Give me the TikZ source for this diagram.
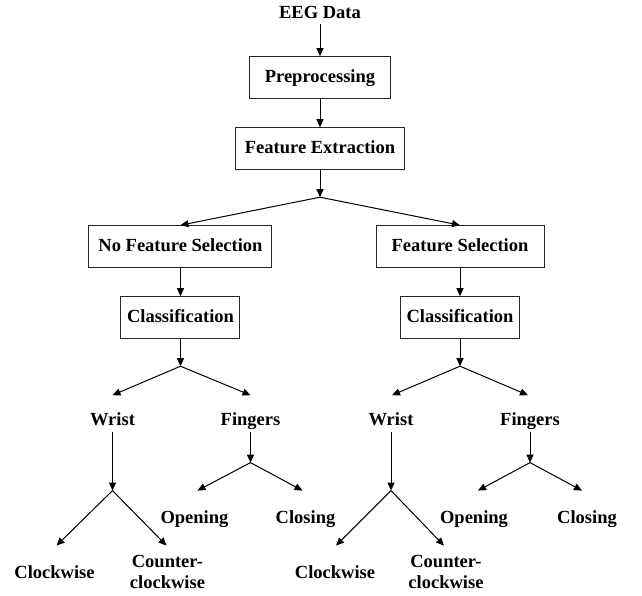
\documentclass[tikz,border=0pt]{standalone}
\usepackage{fontspec}
\setmainfont{Liberation Serif}
\usetikzlibrary{arrows.meta, positioning}

\begin{document}
\begin{tikzpicture}[
    % Node styles
    stepbox/.style={
        rectangle, draw=black!85, line width=1pt,
        minimum height=42pt, inner xsep=4pt,
        font=\fontsize{18.5}{22}\selectfont\bfseries,
        text height=12.5pt, text depth=3.5pt, align=center
    },
    leaf/.style={
        font=\fontsize{18.5}{21}\selectfont\bfseries,
        inner sep=2pt, align=center
    },
    word/.style={
        leaf, text height=12.5pt, text depth=3.5pt
    },
    arrow/.style={
        -{Triangle[length=8pt, width=7pt]}, line width=1pt, black
    }
]

\useasboundingbox (-320pt,14pt) rectangle (322pt,-582pt);

% --- Main chain ---
\node[word] (eeg) {EEG Data};
\node[stepbox, minimum width=140pt, below=32pt of eeg] (prep) {Preprocessing};
\node[stepbox, minimum width=168pt, below=28pt of prep] (fe) {Feature Extraction};
\coordinate[below=27pt of fe] (sp0);

\node[stepbox, minimum width=183pt, below=28pt of sp0, xshift=-139.5pt] (nofs) {No Feature Selection};
\node[stepbox, minimum width=168pt, below=28pt of sp0, xshift=140pt] (fs) {Feature Selection};
\node[stepbox, minimum width=119pt, below=28pt of nofs] (cls1) {Classification};
\node[stepbox, minimum width=119pt, below=28pt of fs] (cls2) {Classification};
\coordinate[below=27pt of cls1] (sp1);
\coordinate[below=27pt of cls2] (sp2);

% --- Left branch (no feature selection) ---
\coordinate[below left=29pt and 68pt of sp1] (tw1);
\coordinate[below right=29pt and 70pt of sp1] (tf1);
\node[word, below=16pt of tw1] (wrist1) {Wrist};
\node[word, below=16pt of tf1] (fing1) {Fingers};
\coordinate[below=59pt of wrist1] (ws1);
\coordinate[below=31pt of fing1] (fs1);

\coordinate[below left=55pt and 56pt of ws1] (tcw1);
\coordinate[below right=55pt and 54pt of ws1] (tccw1);
\node[word, below=18pt of tcw1, xshift=-2pt] (cw1) {Clockwise};
\node[leaf, below=7pt of tccw1, xshift=1pt] (ccw1) {Counter-\\clockwise};

\coordinate[below left=28pt and 53pt of fs1] (top1);
\coordinate[below right=28pt and 52pt of fs1] (tcl1);
\node[word, below=18pt of top1, xshift=-3pt] (open1) {Opening};
\node[word, below=18pt of tcl1, xshift=3pt] (close1) {Closing};

% --- Right branch (feature selection) ---
\coordinate[below left=29pt and 68pt of sp2] (tw2);
\coordinate[below right=29pt and 68pt of sp2] (tf2);
\node[word, below=16pt of tw2, xshift=-1pt] (wrist2) {Wrist};
\node[word, below=16pt of tf2, xshift=2pt] (fing2) {Fingers};
\coordinate[below=59pt of wrist2] (ws2);
\coordinate[below=31pt of fing2] (fs2);

\coordinate[below left=55pt and 55pt of ws2] (tcw2);
\coordinate[below right=55pt and 53pt of ws2] (tccw2);
\node[word, below=18pt of tcw2, xshift=-1pt] (cw2) {Clockwise};
\node[leaf, below=7pt of tccw2, xshift=2pt] (ccw2) {Counter-\\clockwise};

\coordinate[below left=28pt and 52pt of fs2] (top2);
\coordinate[below right=28pt and 52pt of fs2] (tcl2);
\node[word, below=18pt of top2, xshift=-4pt] (open2) {Opening};
\node[word, below=18pt of tcl2, xshift=5pt] (close2) {Closing};

% --- Arrows ---
\draw[arrow] (eeg) -- (prep);
\draw[arrow] (prep) -- (fe);
\draw[arrow] (fe) -- (sp0);
\draw[arrow] (sp0) -- (nofs.north);
\draw[arrow] (sp0) -- (fs.north);
\draw[arrow] (nofs) -- (cls1);
\draw[arrow] (fs) -- (cls2);

\foreach \s in {1,2} {
    \draw[arrow] (cls\s) -- (sp\s);
    \draw[arrow] (sp\s) -- (tw\s);
    \draw[arrow] (sp\s) -- (tf\s);
    \draw[arrow] (wrist\s) -- (ws\s);
    \draw[arrow] (fing\s) -- (fs\s);
    \draw[arrow] (ws\s) -- (tcw\s);
    \draw[arrow] (ws\s) -- (tccw\s);
    \draw[arrow] (fs\s) -- (top\s);
    \draw[arrow] (fs\s) -- (tcl\s);
}

\end{tikzpicture}
\end{document}
